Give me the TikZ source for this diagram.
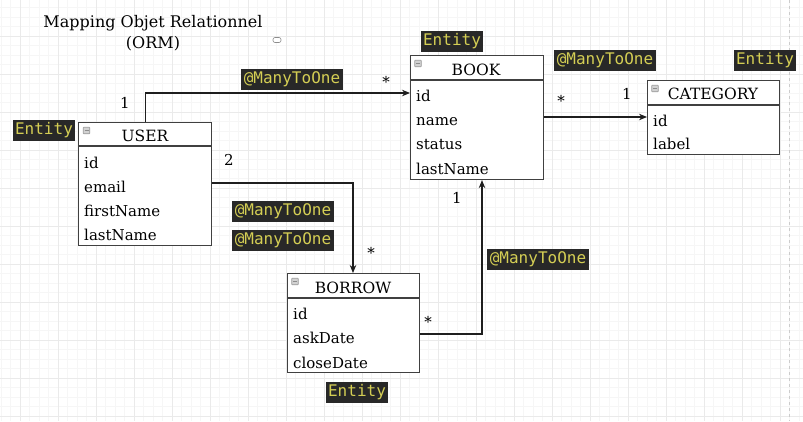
\documentclass[tikz,border=0pt]{standalone}
\usepackage{fontspec}
\setmainfont{DejaVu Serif}
\newfontfamily\monof{DejaVu Sans Mono}
\usetikzlibrary{arrows.meta,calc}
\definecolor{gridminor}{RGB}{246,246,246}
\definecolor{gridmajor}{RGB}{234,234,234}
\definecolor{lblbg}{RGB}{40,40,40}
\definecolor{lbltxt}{RGB}{212,206,84}
\definecolor{boxcol}{RGB}{64,64,64}
\definecolor{linecol}{RGB}{30,30,30}
\tikzset{
  classbox/.style={draw=boxcol, line width=1.1pt, fill=white, anchor=north west, inner sep=0pt},
  hdrline/.style={draw=boxcol, line width=1.1pt},
  titletext/.style={font=\fontsize{15.5}{18}\selectfont, inner sep=0pt},
  rowtext/.style={font=\fontsize{15}{18}\selectfont, inner sep=0pt, anchor=west, text height=11pt, text depth=3.5pt},
  annot/.style={font=\fontsize{15}{18}\selectfont, inner sep=0pt},
  tag/.style={fill=lblbg, text=lbltxt, font=\monof\fontsize{16}{18}\selectfont, inner xsep=2.5pt, inner ysep=3pt, text height=12pt, text depth=3pt},
  conn/.style={draw=linecol, line width=1.1pt, -{Stealth[length=8pt,width=6.5pt]}},
  minusicon/.style={draw=gray!80, fill=gray!35, line width=0.6pt, minimum size=6.5pt, inner sep=0pt, rounded corners=0.5pt}
}
\begin{document}
\begin{tikzpicture}[x=1pt,y=-1pt]
\useasboundingbox (0,0) rectangle (803,421);
\fill[white] (0,0) rectangle (803,421);
% grid
\foreach \i in {0,...,84} \draw[gridminor, line width=0.5pt] ({1+9.5*\i},0) -- ({1+9.5*\i},421);
\foreach \i in {0,...,43} \draw[gridminor, line width=0.5pt] (0,{7.5+9.5*\i}) -- (803,{7.5+9.5*\i});
\foreach \i in {0,...,20} \draw[gridmajor, line width=0.8pt] ({20+38*\i},0) -- ({20+38*\i},421);
\foreach \i in {0,...,10} \draw[gridmajor, line width=0.8pt] (0,{36+38*\i}) -- (803,{36+38*\i});
\draw[gray!40, dashed, line width=0.8pt] (789,0) -- (789,421);

% title
\node[font=\fontsize{16}{20.5}\selectfont, align=center, inner sep=0pt] (title) at (153,33) {Mapping Objet Relationnel\\(ORM)};
\node[draw=gray!90, fill=white, line width=0.6pt, minimum width=8pt, minimum height=5pt, inner sep=0pt, rounded corners=2pt] (icon) at (277,40) {};

% USER
\node[classbox, minimum width=133pt, minimum height=123pt] (user) at (78,122) {};
\draw[hdrline] ($(user.north west)+(0,24)$) -- ($(user.north east)+(0,24)$);
\node[minusicon] (user-m) at (86.5,130.5) {};
\draw[gray!90, line width=0.6pt] (84.5,130.5) -- (88.5,130.5);
\node[titletext] (user-t) at (145,136) {USER};
\node[rowtext] (user-1) at (84,165) {id};
\node[rowtext] (user-2) at (84,189) {email};
\node[rowtext] (user-3) at (84,213) {firstName};
\node[rowtext] (user-4) at (84,237) {lastName};

% BOOK
\node[classbox, minimum width=133pt, minimum height=124pt] (book) at (410,55) {};
\draw[hdrline] ($(book.north west)+(0,25)$) -- ($(book.north east)+(0,25)$);
\node[minusicon] (book-m) at (418,63.5) {};
\draw[gray!90, line width=0.6pt] (416,63.5) -- (420,63.5);
\node[titletext] (book-t) at (476,70) {BOOK};
\node[rowtext] (book-1) at (416,98) {id};
\node[rowtext] (book-2) at (416,122) {name};
\node[rowtext] (book-3) at (416,146) {status};
\node[rowtext] (book-4) at (416,171) {lastName};

% CATEGORY
\node[classbox, minimum width=132pt, minimum height=74pt] (cat) at (647,80) {};
\draw[hdrline] ($(cat.north west)+(0,25)$) -- ($(cat.north east)+(0,25)$);
\node[minusicon] (cat-m) at (655,88.5) {};
\draw[gray!90, line width=0.6pt] (653,88.5) -- (657,88.5);
\node[titletext] (cat-t) at (713,94) {CATEGORY};
\node[rowtext] (cat-1) at (653,123) {id};
\node[rowtext] (cat-2) at (653,146) {label};

% BORROW
\node[classbox, minimum width=132pt, minimum height=99pt] (borrow) at (287,273) {};
\draw[hdrline] ($(borrow.north west)+(0,25)$) -- ($(borrow.north east)+(0,25)$);
\node[minusicon] (borrow-m) at (295,281.5) {};
\draw[gray!90, line width=0.6pt] (293,281.5) -- (297,281.5);
\node[titletext] (borrow-t) at (353,288) {BORROW};
\node[rowtext] (borrow-1) at (293,316) {id};
\node[rowtext] (borrow-2) at (293,340) {askDate};
\node[rowtext] (borrow-3) at (293,365) {closeDate};

% connectors
\coordinate (c1) at ($(book.north west)+(0,38)$);
\draw[conn] (user.north) |- (c1);
\coordinate (c2s) at ($(user.north east)+(0,61)$);
\coordinate (c2e) at ($(borrow.north west)+(66,0)$);
\draw[conn] (c2s) -| (c2e);
\coordinate (c3s) at ($(borrow.north east)+(0,61)$);
\coordinate (c3e) at ($(book.south west)+(72,0)$);
\draw[conn] (c3s) -| (c3e);
\coordinate (c4s) at ($(book.north east)+(0,62)$);
\coordinate (c4e) at ($(cat.north west)+(0,37)$);
\draw[conn] (c4s) -- (c4e);

% multiplicities
\node[annot] (m1a) at (125,103) {1};
\node[annot] (m1b) at (386,82) {*};
\node[annot] (m2a) at (229,160) {2};
\node[annot] (m2b) at (371,253) {*};
\node[annot] (m3a) at (457,198) {1};
\node[annot] (m3b) at (428,322) {*};
\node[annot] (m4a) at (561,101) {*};
\node[annot] (m4b) at (627,94) {1};

% tags
\node[tag] (tag-user) at (44,130) {Entity};
\node[tag] (tag-book) at (452,41) {Entity};
\node[tag] (tag-cat) at (765,60) {Entity};
\node[tag] (tag-borrow) at (357,392) {Entity};
\node[tag] (mto1) at (292,79) {@ManyToOne};
\node[tag] (mto2) at (283,211) {@ManyToOne};
\node[tag] (mto3) at (283,240) {@ManyToOne};
\node[tag] (mto4) at (538,259) {@ManyToOne};
\node[tag] (mto5) at (605,60) {@ManyToOne};
\end{tikzpicture}
\end{document}
